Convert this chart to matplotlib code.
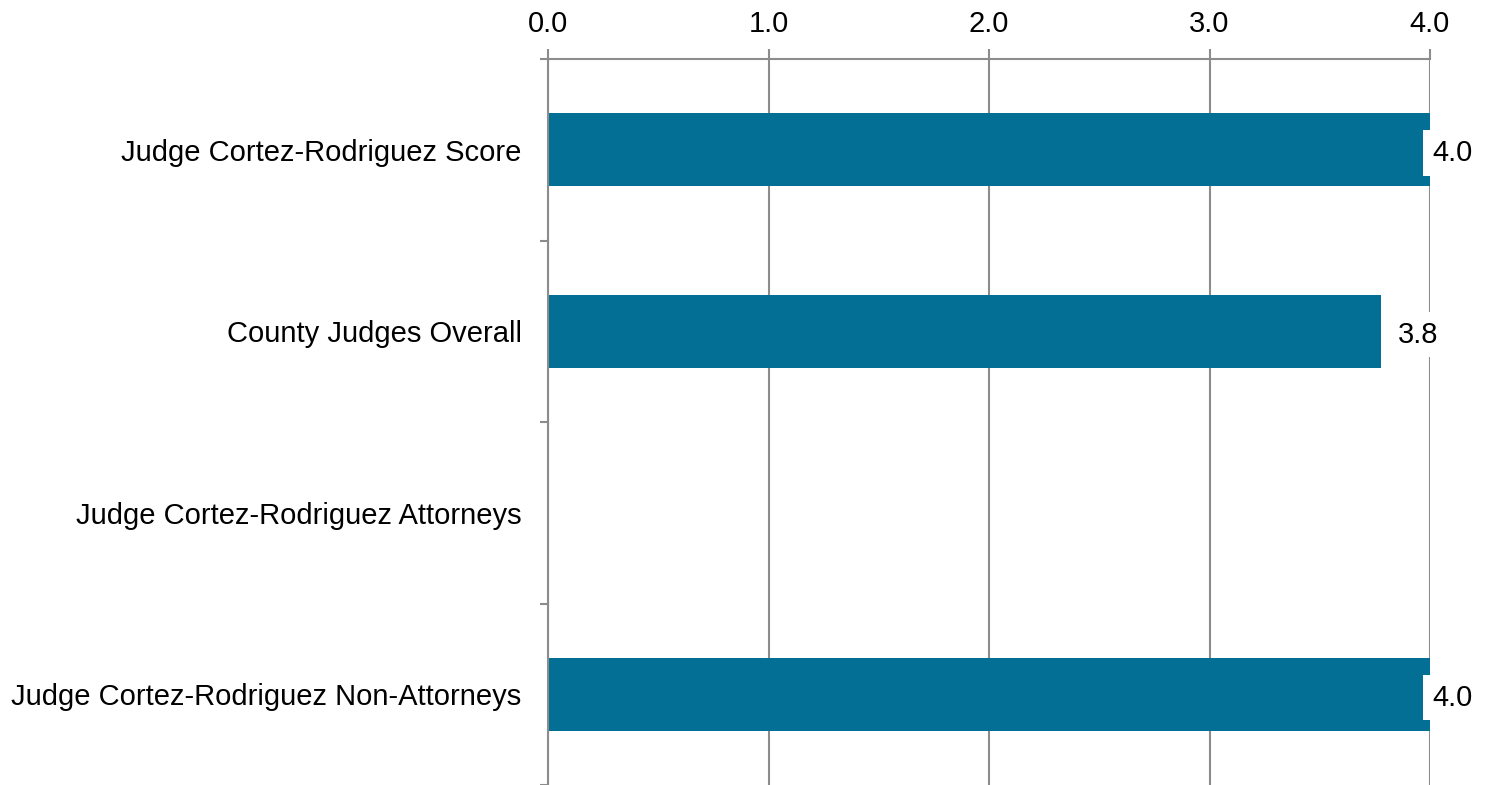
import numpy as np
import matplotlib
matplotlib.use("Agg")
import matplotlib.pyplot as plt
from matplotlib.ticker import FixedLocator

plt.rcParams['font.family'] = ['Liberation Sans', 'DejaVu Sans']

categories = ["Judge Cortez-Rodriguez Score", "County Judges Overall",
              "Judge Cortez-Rodriguez Attorneys", "Judge Cortez-Rodriguez Non-Attorneys"]
scores = [4.0, 3.78, np.nan, 4.0]
x_ticks = [0.0, 1.0, 2.0, 3.0, 4.0]

bar_color = "#036F95"
grid_color = "#8C8C8C"

fig = plt.figure(figsize=(14.9, 7.85), dpi=100)
ax = fig.add_axes([548 / 1490, 0.0, 882 / 1490, 1 - 59 / 785])

y = np.arange(len(categories))
ax.barh(y, scores, height=0.4, color=bar_color, zorder=2)

ax.set_xlim(0, 4)
ax.set_ylim(len(categories) - 0.5, -0.5)

ax.xaxis.tick_top()
ax.set_xticks(x_ticks)
ax.set_xticklabels([f"{t:.1f}" for t in x_ticks])
ax.tick_params(axis='x', which='major', length=7, width=1.5, color=grid_color,
               labelsize=21, pad=8)
ax.grid(axis='x', color=grid_color, linewidth=1.5, zorder=1)

ax.set_yticks(y)
ax.set_yticklabels(categories)
ax.yaxis.set_minor_locator(FixedLocator(np.arange(len(categories) + 1) - 0.5))
ax.tick_params(axis='y', which='major', length=0, labelsize=21, pad=19)
ax.tick_params(axis='y', which='minor', length=6, width=1.5, color=grid_color)

for side in ['right', 'bottom']:
    ax.spines[side].set_visible(False)
for side in ['top', 'left']:
    ax.spines[side].set_color(grid_color)
    ax.spines[side].set_linewidth(1.5)
    ax.spines[side].set_zorder(3)

for yi, v in zip(y, scores):
    if np.isnan(v):
        continue
    off = 1.5 if v >= 4.0 else 11.5
    ax.annotate(f"{v:.1f}", xy=(v, yi), xytext=(off, -2.5), textcoords='offset points',
                ha='left', va='center', fontsize=21, zorder=4,
                bbox=dict(boxstyle='square,pad=0.3', fc='white', ec='none'),
                annotation_clip=False)

fig.savefig("out.png", dpi=100)
